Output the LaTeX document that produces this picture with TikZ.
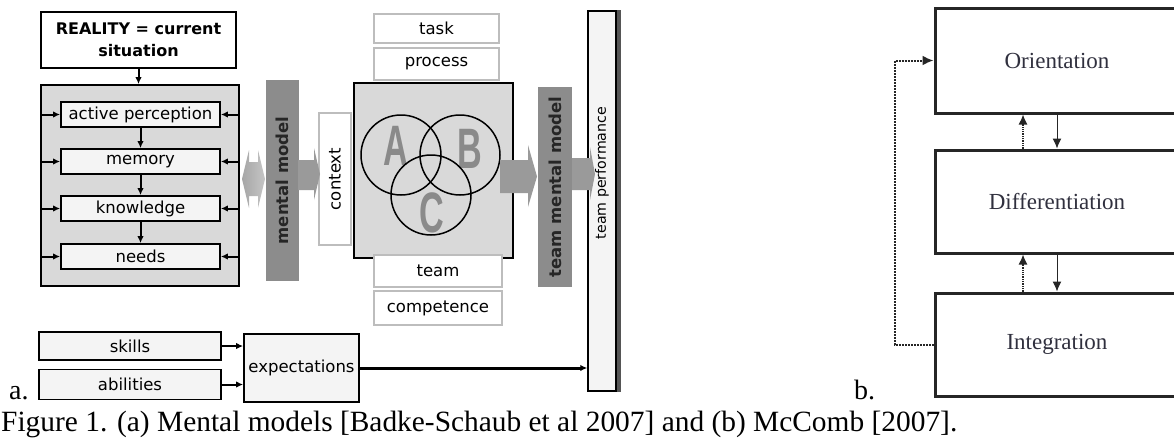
\documentclass[tikz,border=0pt]{standalone}
\usepackage{fontspec}
\usepackage{graphicx}
\setmainfont{Liberation Serif}
\setsansfont{DejaVu Sans}
\usetikzlibrary{arrows.meta}
\newcommand\pxfont[2]{\fontsize{#1}{#2}\selectfont}
\definecolor{panelgray}{HTML}{D9D9D9}
\definecolor{boxfill}{HTML}{F4F4F4}
\definecolor{bargray}{HTML}{8C8C8C}
\definecolor{blockgray}{HTML}{9A9A9A}
\definecolor{framegray}{HTML}{BDBDBD}
\definecolor{lettergray}{HTML}{8A8A8A}
\definecolor{shadowgray}{HTML}{555555}
\definecolor{stageline}{HTML}{262626}
\definecolor{ink}{HTML}{30303E}

\begin{document}
\begin{tikzpicture}[x=1pt,y=-1pt,>={Latex[length=7pt,width=6.5pt]},
    link/.style={->, line width=2},
    realbox/.style={draw, line width=1.8, fill=white, minimum width=195, minimum height=56,
      align=center, inner sep=0, font=\sffamily\bfseries\pxfont{16}{21.5}},
    panel/.style={draw, line width=1.8, fill=panelgray, inner sep=0},
    inbox/.style={draw, line width=1.8, fill=boxfill, minimum width=159, minimum height=25,
      inner sep=0, font=\sffamily\pxfont{16.5}{18}},
    thinbox/.style={draw=framegray, line width=1.3, fill=white, inner sep=0,
      font=\sffamily\pxfont{16.5}{18}},
    bar/.style={fill=bargray, rotate=90, minimum height=33, inner sep=0,
      font=\sffamily\bfseries\pxfont{16.5}{18}, text=black!85},
    blockarr/.style={fill=blockgray},
    ring/.style={draw, circle, line width=1.5, minimum size=80, inner sep=0},
    letter/.style={inner sep=0, text=lettergray, font=\rmfamily\fontspec{Liberation Sans}\bfseries\pxfont{57}{57}},
    stage/.style={draw=stageline, line width=3, minimum width=244, inner sep=0,
      text=ink, font=\pxfont{23}{23}},
    fwdarrow/.style={-{Latex[length=10pt,width=9pt]}, line width=1, draw=stageline},
    backarrow/.style={-{Latex[length=10pt,width=9pt]}, line width=1.3, densely dotted, draw=stageline},
    backlink/.style={-{Latex[length=11pt,width=10pt]}, line width=2, densely dotted, draw=stageline}]
  \useasboundingbox (0,0) rectangle (1174,442);
  \clip (0,0) rectangle (1174,442);

  % (a) left block
  \node[realbox] (real) at (138.5,40) {REALITY = current\\situation};
  \node[panel, minimum width=198, minimum height=201] (gbox) at (140,185.5) {};
  \draw[link] (real.south) -- (real.south |- gbox.north);
  \node[inbox] (act) at (140.5,114.5) {active perception};
  \node[inbox] (mem) at (140.5,161.5) {memory};
  \node[inbox] (know) at (140.5,208.5) {knowledge};
  \node[inbox] (needs) at (140.5,256.5) {needs};
  \foreach \a/\b in {act/mem, mem/know, know/needs}
    \draw[link] (\a) -- (\b);
  \foreach \n in {act,mem,know,needs} {
    \draw[link] (gbox.west |- \n) -- (\n.west);
    \draw[link] (gbox.east |- \n) -- (\n.east);
  }
  \shade[left color=gray!70, right color=gray!45]
    (242,179) -- (249,150) -- (249,162) -- (258,162) -- (258,150) -- (265,179)
    -- (258,208) -- (258,196) -- (249,196) -- (249,208) -- cycle;

  % mental models and context
  \node[bar, minimum width=201] (mm) at (282.5,180.5) {mental model};
  \node[thinbox, rotate=90, minimum width=132, minimum height=32] (ctx) at (335,179) {context};
  \fill[blockarr] (298,160) -- (314,160) -- (314,148) -- (320,174) -- (314,200)
    -- (314,190) -- (298,190) -- cycle;

  % team square
  \node[thinbox, minimum width=125, minimum height=29] (task) at (436.5,28.5) {task};
  \node[thinbox, minimum width=125, minimum height=32] (proc) at (436.5,64) {process};
  \node[panel, minimum width=159, minimum height=175] (sq) at (433.5,170.5) {};
  \node[thinbox, minimum width=128, minimum height=32] (team) at (438,271) {team};
  \node[thinbox, minimum width=128, minimum height=34] (comp) at (438,308) {competence};
  \node[letter] (la) at (396,146) {\scalebox{0.6}[1]{A}};
  \node[letter] (lb) at (470,149) {\scalebox{0.6}[1]{B}};
  \node[letter] (lc) at (432,213) {\scalebox{0.6}[1]{C}};
  \node[ring] (ca) at (401,155) {};
  \node[ring] (cb) at (460,155) {};
  \node[ring] (cc) at (431,195) {};

  \node[bar, minimum width=200, minimum height=34] (tmm) at (555,187) {team mental model};
  \fill[blockarr] (500,160) -- (528,160) -- (528,145) -- (537,176.5) -- (528,207)
    -- (528,193) -- (500,193) -- cycle;

  % team performance
  \node[draw, line width=1.5, fill=boxfill, rotate=90, minimum width=380, minimum height=28,
    inner sep=0, font=\sffamily\pxfont{14.2}{16}] (tp) at (602,201) {\hspace*{56pt}team performance};
  \fill[shadowgray] (tp.south west) rectangle ([xshift=4]tp.south east);
  \fill[blockarr] (572,158) -- (590,158) -- (590,147) -- (595,174) -- (590,200)
    -- (590,190) -- (572,190) -- cycle;

  % skills and abilities
  \node[inbox, minimum width=182, minimum height=28] (skills) at (130,346) {skills};
  \node[inbox, minimum width=182, minimum height=30] (abil) at (130,384.5) {abilities};
  \node[inbox, minimum width=115, minimum height=68] (expect) at (301.5,368) {expectations};
  \draw[link] (skills.east) -- (skills.east -| expect.west);
  \draw[link] (abil.east) -- (abil.east -| expect.west);
  \draw[->, line width=3] (expect.east) -- (expect.east -| tp.north);

  % (b) stages
  \node[stage, minimum height=105] (ori) at (1057,60.5) {Orientation};
  \node[stage, minimum height=103] (dif) at (1057,201.5) {Differentiation};
  \node[stage, minimum height=103] (intg) at (1057,344.5) {Integration};
  \foreach \u/\l in {ori/dif, dif/intg} {
    \draw[fwdarrow] (\u.south) -- (\l.north);
    \draw[backarrow] ([xshift=-34]\l.north) -- ([xshift=-34]\u.south);
  }
  \draw[backlink] (intg.west) -- ++(-39,0) |- (ori.west);

  \node[anchor=base west, inner sep=0, font=\pxfont{28}{28}] (tagA) at (9,399) {a.};
  \node[anchor=base west, inner sep=0, font=\pxfont{28}{28}] (tagB) at (854,399) {b.};
  \node[anchor=base west, inner sep=0, font=\pxfont{29.4}{30}] (cap) at (1,431)
    {Figure 1. (a) Mental models [Badke-Schaub et al 2007] and (b) McComb [2007].};
\end{tikzpicture}
\end{document}
